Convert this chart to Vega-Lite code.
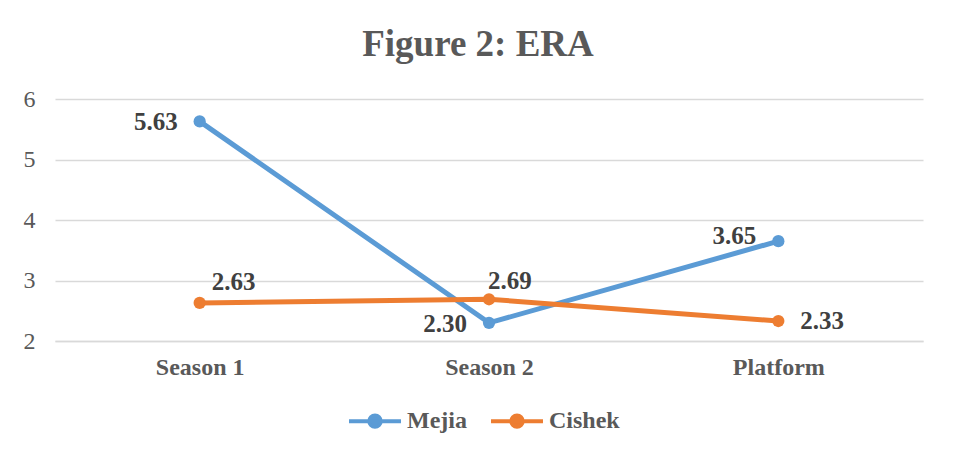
{
  "$schema": "https://vega.github.io/schema/vega-lite/v6.json",
  "width": 868,
  "height": 242,
  "autosize": "none",
  "padding": {"left": 55, "top": 99, "right": 33, "bottom": 116},
  "background": "white",
  "title": {
    "text": "Figure 2: ERA",
    "font": "Liberation Serif",
    "fontSize": 37,
    "fontWeight": "bold",
    "color": "#595959",
    "frame": "group",
    "anchor": "middle",
    "dx": -11,
    "offset": 23
  },
  "config": {
    "view": {"stroke": null},
    "font": "Liberation Serif"
  },
  "data": {
    "values": [
      {"player": "Mejia", "period": "Season 1", "era": 5.63, "pos": "left"},
      {"player": "Mejia", "period": "Season 2", "era": 2.30, "pos": "left"},
      {"player": "Mejia", "period": "Platform", "era": 3.65, "pos": "leftup"},
      {"player": "Cishek", "period": "Season 1", "era": 2.63, "pos": "upright"},
      {"player": "Cishek", "period": "Season 2", "era": 2.69, "pos": "up"},
      {"player": "Cishek", "period": "Platform", "era": 2.33, "pos": "right"}
    ]
  },
  "encoding": {
    "x": {
      "field": "period",
      "type": "nominal",
      "sort": ["Season 1", "Season 2", "Platform"],
      "scale": {"paddingInner": 0, "paddingOuter": 0},
      "axis": {
        "title": null,
        "labelAngle": 0,
        "labelFont": "Liberation Serif",
        "labelFontSize": 24,
        "labelFontWeight": "bold",
        "labelColor": "#595959",
        "labelPadding": 14,
        "ticks": false,
        "domainColor": "#d9d9d9",
        "domainWidth": 1.5
      }
    },
    "y": {
      "field": "era",
      "type": "quantitative",
      "scale": {"domain": [2, 6], "nice": false, "zero": false},
      "axis": {
        "title": null,
        "values": [2, 3, 4, 5, 6],
        "labelOverlap": false,
        "labelFont": "Liberation Serif",
        "labelFontSize": 24,
        "labelColor": "#595959",
        "labelPadding": 20,
        "ticks": false,
        "domain": false,
        "gridColor": "#d9d9d9",
        "gridWidth": 1.5
      }
    }
  },
  "layer": [
    {
      "mark": {"type": "line", "strokeWidth": 5},
      "encoding": {
        "color": {
          "field": "player",
          "type": "nominal",
          "sort": ["Mejia", "Cishek"],
          "scale": {"domain": ["Mejia", "Cishek"], "range": ["#5b9bd5", "#ed7d31"]},
          "legend": {
            "title": null,
            "orient": "none",
            "direction": "horizontal",
            "legendX": 292,
            "legendY": 294,
            "symbolType": "M-1,0H1M0.22,0A0.22,0.22 0 1,1 -0.22,0A0.22,0.22 0 1,1 0.22,0",
            "symbolSize": 2700,
            "symbolStrokeWidth": 4,
            "labelFont": "Liberation Serif",
            "labelFontSize": 24,
            "labelFontWeight": "bold",
            "labelColor": "#595959",
            "labelOffset": 4,
            "columnPadding": 16,
            "encode": {
              "symbols": {
                "update": {
                  "fill": {"scale": "color", "field": "value"},
                  "stroke": {"scale": "color", "field": "value"},
                  "strokeWidth": {"value": 4},
                  "opacity": {"value": 1}
                }
              }
            }
          }
        }
      }
    },
    {
      "mark": {"type": "point", "filled": true, "size": 150, "opacity": 1},
      "encoding": {
        "color": {"field": "player", "type": "nominal", "legend": null}
      }
    },
    {
      "transform": [{"filter": "datum.pos === 'left'"}],
      "mark": {"type": "text", "align": "right", "baseline": "middle", "dx": -22, "dy": 1, "fontSize": 25, "fontWeight": "bold", "color": "#404040"},
      "encoding": {"text": {"field": "era", "type": "quantitative", "format": ".2f"}}
    },
    {
      "transform": [{"filter": "datum.pos === 'leftup'"}],
      "mark": {"type": "text", "align": "right", "baseline": "middle", "dx": -22, "dy": -5, "fontSize": 25, "fontWeight": "bold", "color": "#404040"},
      "encoding": {"text": {"field": "era", "type": "quantitative", "format": ".2f"}}
    },
    {
      "transform": [{"filter": "datum.pos === 'upright'"}],
      "mark": {"type": "text", "align": "left", "baseline": "middle", "dx": 12, "dy": -21, "fontSize": 25, "fontWeight": "bold", "color": "#404040"},
      "encoding": {"text": {"field": "era", "type": "quantitative", "format": ".2f"}}
    },
    {
      "transform": [{"filter": "datum.pos === 'up'"}],
      "mark": {"type": "text", "align": "left", "baseline": "middle", "dx": -1, "dy": -18, "fontSize": 25, "fontWeight": "bold", "color": "#404040"},
      "encoding": {"text": {"field": "era", "type": "quantitative", "format": ".2f"}}
    },
    {
      "transform": [{"filter": "datum.pos === 'right'"}],
      "mark": {"type": "text", "align": "left", "baseline": "middle", "dx": 22, "dy": 0, "fontSize": 25, "fontWeight": "bold", "color": "#404040"},
      "encoding": {"text": {"field": "era", "type": "quantitative", "format": ".2f"}}
    }
  ]
}
